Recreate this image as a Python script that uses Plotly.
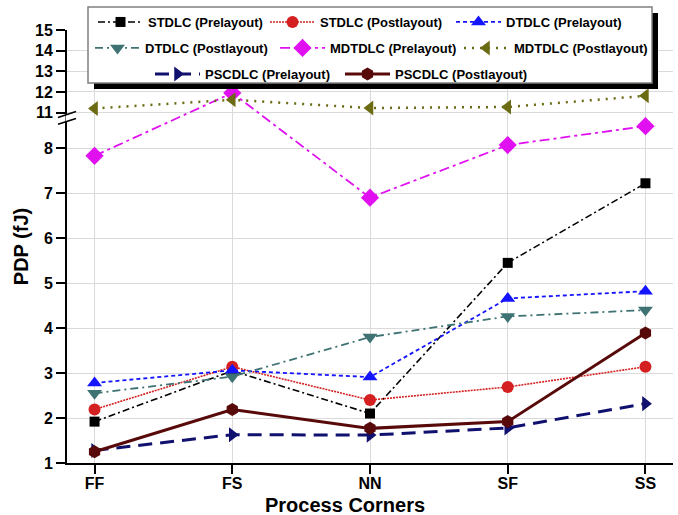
import plotly.graph_objects as go

# ---------------- data ----------------
corners = ["FF", "FS", "NN", "SF", "SS"]
stdlc_pre = [1.92, 3.05, 2.10, 5.45, 7.22]
stdlc_post = [2.19, 3.14, 2.40, 2.69, 3.14]
dtdlc_pre = [2.78, 3.06, 2.91, 4.66, 4.82]
dtdlc_post = [2.55, 2.92, 3.80, 4.26, 4.40]
mdtdlc_pre = [7.83, 11.95, 6.90, 8.07, 8.49]
mdtdlc_post = [11.20, 11.62, 11.22, 11.27, 11.81]
pscdlc_pre = [1.28, 1.63, 1.62, 1.78, 2.32]
pscdlc_post = [1.25, 2.19, 1.77, 1.92, 3.89]

y_ticks_low = [1, 2, 3, 4, 5, 6, 7, 8]
y_ticks_high = [11, 12, 13, 14, 15]

# ---------------- broken-axis scale ----------------
LOW_TOP = 8.584      # top of lower segment
UP_BOT = 10.95       # bottom of upper segment
GAP = 0.185          # visual gap between segments (lower-axis units)
UP_SCALE = 20.7 / 45.1


def T(v):
    if v <= LOW_TOP:
        return v
    return LOW_TOP + GAP + (v - UP_BOT) * UP_SCALE


Y_MAX = T(15)

# plot geometry (pixels) for paper conversion of decorations
W, H = 678, 515
ML, MR, MT, MB = 67, 5, 30, 52
PW, PH = W - ML - MR, H - MT - MB


def px(x):
    return (x - ML) / PW


def py(y):
    return (H - MB - y) / PH


FONT = "Liberation Sans, Arial"

series = [
    ("STDLC (Prelayout)", stdlc_pre, "black", "square", 10, "7px,3px,2px,3px", 1.6),
    ("STDLC (Postlayout)", stdlc_post, "#d42020", "circle", 12, "2px,1px", 1.6),
    ("DTDLC (Prelayout)", dtdlc_pre, "#1414ff", "triangle-up", 13, "4px,3px", 1.8),
    ("DTDLC (Postlayout)", dtdlc_post, "#3f7272", "triangle-down", 13, "8px,4px,2px,4px", 1.8),
    ("MDTDLC (Prelayout)", mdtdlc_pre, "#e010f0", "diamond", 14, "10px,4px,3px,4px", 1.8),
    ("MDTDLC (Postlayout)", mdtdlc_post, "#6b6b14", "triangle-left", 13, "2px,6px", 2.5),
    ("PSCDLC (Prelayout)", pscdlc_pre, "#10106e", "triangle-right", 13, "14px,8px", 3),
    ("PSCDLC (Postlayout)", pscdlc_post, "#580a0a", "hexagon", 13, "solid", 3),
]

# legend entry positions (icon start x px, row centre y px)
leg_pos = [(95, 22), (267, 22), (453, 22),
           (92, 48), (277, 48), (461, 48),
           (152, 74), (342, 74)]

fig = go.Figure()
legends = {}
for i, (name, vals, col, sym, sz, dash, lw) in enumerate(series):
    lname = "legend" if i == 0 else f"legend{i + 1}"
    fig.add_trace(go.Scatter(
        x=corners, y=[T(v) for v in vals], name=name, mode="lines+markers",
        line=dict(color=col, width=lw, dash=dash),
        marker=dict(symbol=sym, size=sz, color=col, line=dict(width=0)),
        legend=lname, cliponaxis=False, showlegend=True,
    ))
    lx, ly = leg_pos[i]
    legends[lname] = dict(
        x=px(lx - 2), y=py(ly), xanchor="left", yanchor="middle",
        orientation="h", bgcolor="rgba(0,0,0,0)", borderwidth=0,
        font=dict(size=13, color="black", family=FONT, weight="bold"),
        itemwidth=45,
    )

shapes = [
    # legend shadow and box
    dict(type="rect", xref="paper", yref="paper", x0=px(94), x1=px(658), y0=py(89), y1=py(13),
         fillcolor="black", line=dict(width=0), layer="above"),
    dict(type="rect", xref="paper", yref="paper", x0=px(88), x1=px(652), y0=py(83), y1=py(7),
         fillcolor="white", line=dict(color="#808080", width=1.5), layer="above"),
    # axis break: gap in the axis line and two slashes
    dict(type="rect", xref="paper", yref="y", x0=px(65.5), x1=px(70), y0=LOW_TOP, y1=T(UP_BOT) - 0.01,
         fillcolor="white", line=dict(width=0), layer="above"),
]
for c in (LOW_TOP + 0.01, T(UP_BOT) - 0.02):
    shapes.append(dict(type="line", xref="paper", yref="y", x0=px(58), x1=px(76),
                       y0=c - 2.9 / 45.1, y1=c + 2.9 / 45.1,
                       line=dict(color="black", width=1.6), layer="above"))

annotations = [
    dict(text="Process Corners", xref="paper", yref="paper", x=px(345), y=py(505),
         xanchor="center", yanchor="middle", showarrow=False,
         font=dict(size=20, weight="bold", color="black", family=FONT)),
]

fig.update_layout(
    width=W, height=H,
    margin=dict(l=ML, r=MR, t=MT, b=MB),
    plot_bgcolor="white", paper_bgcolor="white",
    font=dict(family=FONT, color="black"),
    shapes=shapes, annotations=annotations,
    showlegend=True,
    **legends,
)

fig.update_xaxes(
    type="category", range=[-0.2, 4.2],
    showline=True, linecolor="black", linewidth=2,
    ticks="outside", ticklen=9, tickwidth=2, tickcolor="black",
    ticklabelstandoff=-4,
    showgrid=True, gridcolor="#dadada", gridwidth=1, zeroline=False,
    tickfont=dict(size=16, weight="bold", color="black"),
)

fig.update_yaxes(
    range=[1, Y_MAX],
    tickvals=[T(v) for v in y_ticks_low + y_ticks_high],
    ticktext=[str(v) for v in y_ticks_low + y_ticks_high],
    showline=True, linecolor="black", linewidth=2,
    ticks="outside", ticklen=9, tickwidth=2, tickcolor="black",
    showgrid=True, gridcolor="#dadada", gridwidth=1, zeroline=False,
    tickfont=dict(size=16, weight="bold", color="black"),
    title=dict(text="PDP (fJ)", font=dict(size=20, weight="bold", color="black"), standoff=1),
)

fig.write_html("out.html")
